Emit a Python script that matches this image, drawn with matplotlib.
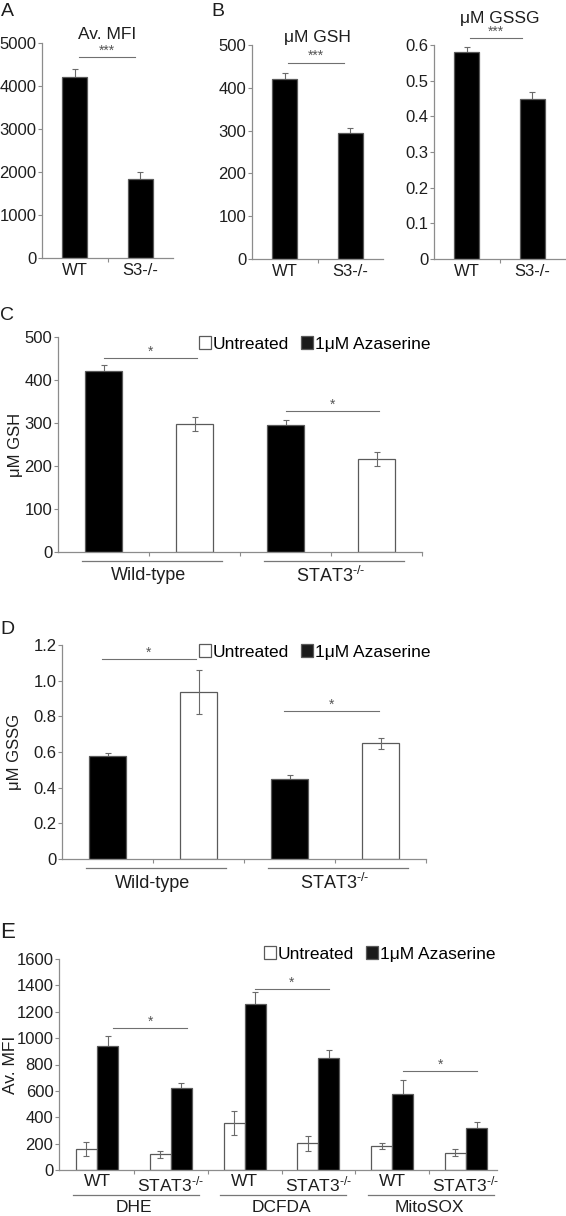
import matplotlib.pyplot as plt
import numpy as np

plt.rcParams['font.family'] = ['Liberation Sans', 'DejaVu Sans']
plt.rcParams['mathtext.fontset'] = 'custom'
plt.rcParams['mathtext.rm'] = 'Liberation Sans'
plt.rcParams['mathtext.it'] = 'Liberation Sans'

# ---- data ----
a_labels = ['WT', 'S3-/-']
a_mfi = [4200, 1840]
a_mfi_err = [190, 170]
b_gsh = [420, 295]
b_gsh_err = [15, 12]
b_gssg = [0.58, 0.448]
b_gssg_err = [0.014, 0.019]

cd_groups = ['Wild-type', r'STAT3$^{\text{-/-}}$']
cd_fill = ['black', 'white', 'black', 'white']
c_gsh = [421, 297, 295, 216]
c_gsh_err = [14, 16, 12, 16]
d_gssg = [0.58, 0.938, 0.449, 0.649]
d_gssg_err = [0.016, 0.124, 0.02, 0.03]

e_labels = ['WT', r'STAT3$^{\text{-/-}}$'] * 3
e_groups = ['DHE', 'DCFDA', 'MitoSOX']
e_untreated = [157, 119, 359, 203, 182, 132]
e_untreated_err = [52, 25, 90, 56, 21, 28]
e_azaserine = [942, 625, 1261, 846, 575, 322]
e_azaserine_err = [75, 38, 86, 63, 109, 43]

W, H = 566, 1216
EDGE = '#5a5a5a'
AXC = '#8c8c8c'
TXT = '#1e1e1e'

fig = plt.figure(figsize=(W / 100, H / 100), dpi=100)


def add_axes(x0, x1, ytop, ybot):
    return fig.add_axes([x0 / W, 1 - ybot / H, (x1 - x0) / W, (ybot - ytop) / H])


def style(ax, fs):
    for s in ['top', 'right']:
        ax.spines[s].set_visible(False)
    for s in ['left', 'bottom']:
        ax.spines[s].set_color(AXC)
        ax.spines[s].set_linewidth(0.9)
    ax.tick_params(axis='y', colors=AXC, labelcolor=TXT, labelsize=fs, length=3, width=0.8, pad=1)
    ax.tick_params(axis='x', which='major', length=0, labelcolor=TXT, labelsize=fs)
    ax.tick_params(axis='x', which='minor', colors=AXC, length=3, width=0.8)


def bars(ax, x, vals, errs, fills, width):
    for xi, v, e, f in zip(x, vals, errs, fills):
        ax.bar(xi, v, width, color=f, edgecolor=EDGE, linewidth=0.9, zorder=2)
        ax.errorbar(xi, v, yerr=e, fmt='none', ecolor='#6a6a6a', elinewidth=0.8,
                    capsize=2.5, capthick=0.8, zorder=1 if f == 'black' else 3)


def sig(ax, x0, x1, y, star, fs=10):
    ax.plot([x0, x1], [y, y], color='#707070', lw=0.8, clip_on=False, zorder=4)
    ax.annotate(star, ((x0 + x1) / 2, y), xytext=(0, -0.5), textcoords='offset points',
                ha='center', va='bottom', fontsize=fs, color='#555555', annotation_clip=False)


def below(ax, px):
    return -px / (ax.get_position().height * H)


def legend(ax, x, y, fs):
    h1 = plt.Rectangle((0, 0), 1, 1, facecolor='white', edgecolor=EDGE, linewidth=0.9)
    h2 = plt.Rectangle((0, 0), 1, 1, facecolor='#1a1a1a', edgecolor=EDGE, linewidth=0.9)
    ax.legend([h1, h2], ['Untreated', '1μM Azaserine'], loc='center left', bbox_to_anchor=(x, y),
              ncol=2, frameon=False, fontsize=fs, handlelength=0.7, handleheight=0.7,
              handletextpad=0.1, columnspacing=0.7, borderpad=0, borderaxespad=0)


# ---- panel A ----
ax = add_axes(42, 173, 43, 258)
style(ax, 12)
x2 = np.arange(2)
bars(ax, x2, a_mfi, a_mfi_err, ['black', 'black'], 0.38)
ax.set_xlim(-0.5, 1.5)
ax.set_ylim(0, 5000)
ax.set_yticks(np.arange(0, 5001, 1000))
ax.set_xticks(x2, a_labels)
ax.set_xticks([0.5], minor=True)
sig(ax, 0.06, 0.92, 4670, '***')
ax.set_title('Av. MFI', fontsize=12.5, color=TXT, pad=3)
fig.text(1 / W, 1 - 3 / H, 'A', fontsize=14, va='top', color=TXT)

# ---- panel B, GSH ----
ax = add_axes(252, 383, 45, 259)
style(ax, 12)
bars(ax, x2, b_gsh, b_gsh_err, ['black', 'black'], 0.38)
ax.set_xlim(-0.5, 1.5)
ax.set_ylim(0, 500)
ax.set_yticks(np.arange(0, 501, 100))
ax.set_xticks(x2, a_labels)
ax.set_xticks([0.5], minor=True)
sig(ax, 0.05, 0.9, 459, '***')
ax.set_title('μM GSH', fontsize=12.5, color=TXT, pad=0)
fig.text(211 / W, 1 - 3 / H, 'B', fontsize=14, va='top', color=TXT)

# ---- panel B, GSSG ----
ax = add_axes(434, 565, 45, 259)
style(ax, 12)
bars(ax, x2, b_gssg, b_gssg_err, ['black', 'black'], 0.38)
ax.set_xlim(-0.5, 1.5)
ax.set_ylim(0, 0.6)
ax.set_yticks(np.arange(0, 0.61, 0.1), ['0', '0.1', '0.2', '0.3', '0.4', '0.5', '0.6'])
ax.set_xticks(x2, a_labels)
ax.set_xticks([0.5], minor=True)
sig(ax, 0.05, 0.84, 0.619, '***')
ax.set_title('μM GSSG', fontsize=12.5, color=TXT, pad=15.5)

# ---- panels C and D ----
x4 = np.arange(4)
panels_cd = [
    (c_gsh, c_gsh_err, (58, 422, 337, 552), 500, 100, 'μM GSH', 'C', 315, 23,
     [(0.0, 1.03, 451), (2.0, 3.03, 328)]),
    (d_gssg, d_gssg_err, (62, 426, 645, 859), 1.2, 0.2, 'μM GSSG', 'D', 629, 22,
     [(-0.06, 0.97, 1.121), (1.94, 2.98, 0.83)]),
]
for vals, errs, box, ymax, step, ylab, letter, ly, lx, sigs in panels_cd:
    ax = add_axes(*box)
    style(ax, 12)
    bars(ax, x4, vals, errs, cd_fill, 0.4)
    ax.set_xlim(-0.5, 3.5)
    ax.set_ylim(0, ymax)
    ticks = np.arange(0, ymax + step / 2, step)
    if ymax < 10:
        ax.set_yticks(ticks, ['0'] + ['%.1f' % t for t in ticks[1:]])
    else:
        ax.set_yticks(ticks)
    ax.set_xticks([])
    ax.set_xticks([0.5, 1.5, 2.5, 3.5], minor=True)
    ax.set_ylabel(ylab, fontsize=12, color=TXT)
    ax.yaxis.set_label_coords((lx - box[0]) / (box[1] - box[0]), 0.5)
    for x0, x1, y in sigs:
        sig(ax, x0, x1, y, '*')
    for gi, g in enumerate(cd_groups):
        c = 0.5 + 2 * gi
        ax.plot([c - 0.74, c + 0.8], [below(ax, 9)] * 2, color='#777777', lw=0.9,
                transform=ax.get_xaxis_transform(), clip_on=False)
        ax.text(c, below(ax, 24), g, transform=ax.get_xaxis_transform(), ha='center',
                va='center', fontsize=13, color=TXT)
    legend(ax, (199 - box[0]) / (box[1] - box[0]), (box[3] - (box[2] + 7)) / (box[3] - box[2]), 12.5)
    fig.text(0 / W, 1 - ly / H, letter, fontsize=14, va='center', color=TXT)

# ---- panel E ----
ax = add_axes(59, 497, 959, 1170)
style(ax, 12)
x6 = np.arange(6)
bw = 0.285
bars(ax, x6 - bw / 2, e_untreated, e_untreated_err, ['white'] * 6, bw)
bars(ax, x6 + bw / 2, e_azaserine, e_azaserine_err, ['black'] * 6, bw)
ax.set_xlim(-0.515, 5.42)
ax.set_ylim(0, 1600)
ax.set_yticks(np.arange(0, 1601, 200))
ax.set_xticks(x6, e_labels)
ax.set_xticks(x6[:-1] + 0.5, minor=True)
ax.tick_params(axis='x', which='major', pad=3, labelsize=12.5)
ax.set_ylabel('Av. MFI', fontsize=12.5, color=TXT)
ax.yaxis.set_label_coords((18 - 59) / 438, 0.5)
for x0, x1, y in [(0.22, 1.22, 1076), (2.14, 3.14, 1375), (4.15, 5.15, 747)]:
    sig(ax, x0, x1, y, '*')
for gi, g in enumerate(e_groups):
    c = 0.5 + 2 * gi
    ax.plot([c - 0.83, c + 0.88], [below(ax, 25)] * 2, color='#777777', lw=0.9,
            transform=ax.get_xaxis_transform(), clip_on=False)
    ax.text(c, below(ax, 38), g, transform=ax.get_xaxis_transform(), ha='center',
            va='center', fontsize=12.5, color=TXT)
legend(ax, (264 - 59) / 438, (1170 - 954) / 211, 12.5)
fig.text(0 / W, 1 - 933 / H, 'E', fontsize=16, va='center', color=TXT)

fig.savefig('out.png', dpi=100)
